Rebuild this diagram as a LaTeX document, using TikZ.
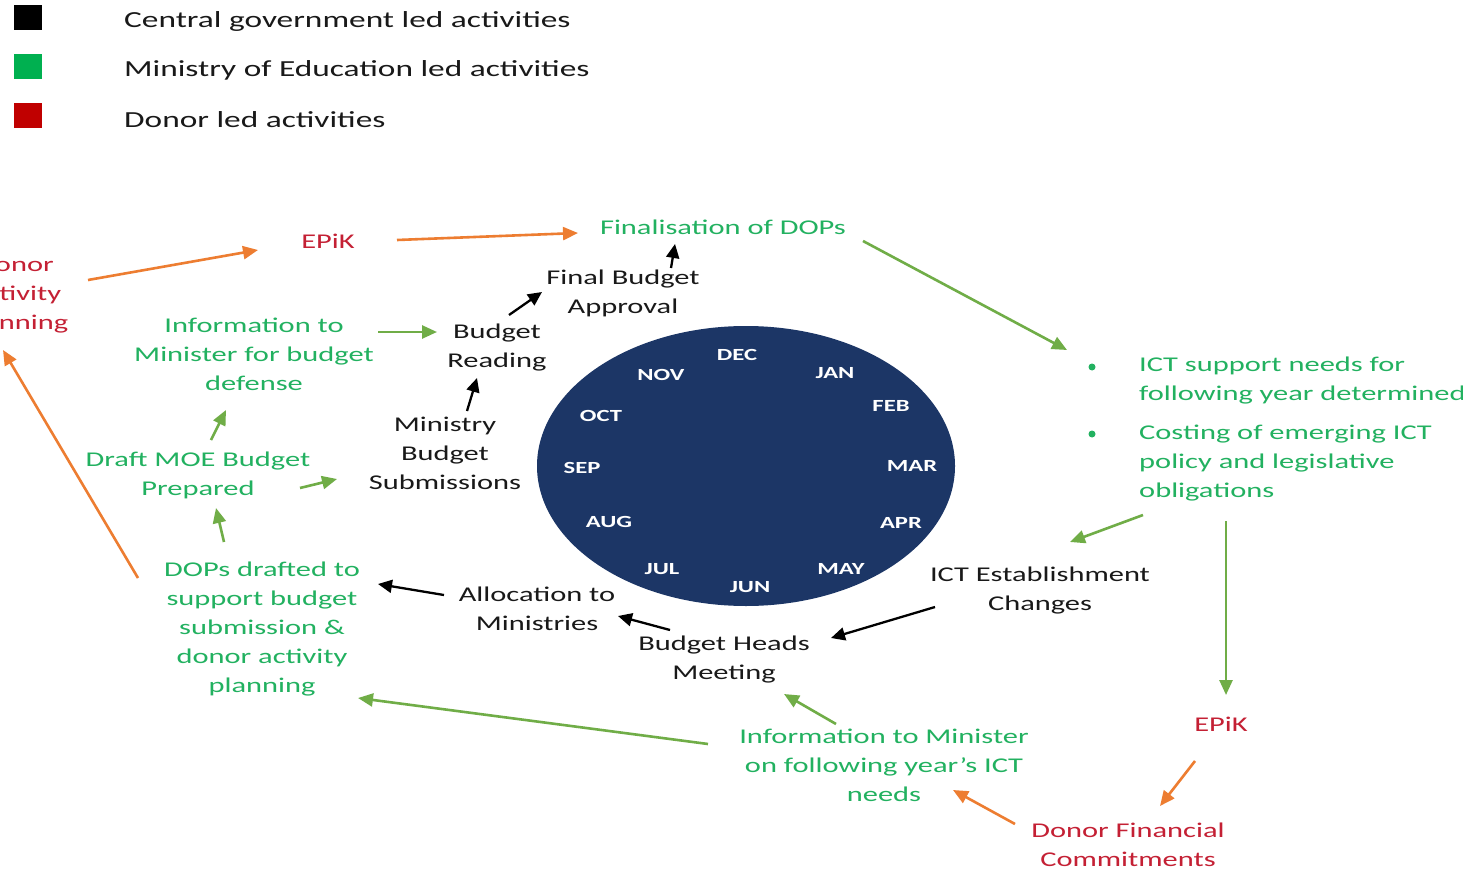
\documentclass[tikz,border=0pt]{standalone}
\usepackage{fontspec}
\setmainfont{Carlito}[FakeStretch=1.45]
\usetikzlibrary{arrows.meta,shapes.geometric}
\definecolor{txtgreen}{RGB}{34,177,96}
\definecolor{txtred}{RGB}{196,32,52}
\definecolor{txtblack}{RGB}{25,25,25}
\definecolor{arrorange}{RGB}{237,125,49}
\definecolor{arrgreen}{RGB}{112,173,71}
\definecolor{navy}{RGB}{28,54,102}
\definecolor{leggreen}{RGB}{0,176,80}
\definecolor{legred}{RGB}{192,0,0}
\tikzset{
  lbl/.style={font=\fontsize{21}{29}\selectfont, align=center, inner sep=0pt},
  gtxt/.style={lbl, text=txtgreen},
  rtxt/.style={lbl, text=txtred},
  ktxt/.style={lbl, text=txtblack},
  month/.style={font=\fontsize{17}{18}\selectfont\bfseries, text=white, inner sep=0pt},
  legtxt/.style={font=\fontsize{23}{26}\selectfont, anchor=west, inner sep=0pt, text=txtblack},
  legbox/.style={minimum width=28pt, minimum height=25pt, inner sep=0pt},
  garr/.style={draw=arrgreen, line width=2.6pt, -{Triangle[length=15pt,width=13pt]}},
  oarr/.style={draw=arrorange, line width=2.6pt, -{Triangle[length=15pt,width=13pt]}},
  karr/.style={draw=black, line width=2.3pt, -{Triangle[length=14pt,width=13pt]}},
  dot/.style={circle, fill=txtgreen, minimum size=7pt, inner sep=0pt}
}
\begin{document}
\begin{tikzpicture}[x=1pt,y=-1pt]
\useasboundingbox (0,0) rectangle (1463,869);
\fill[white] (0,0) rectangle (1463,869);

% legend
\node[legbox, fill=black] (lk) at (28,18) {};
\node[legbox, fill=leggreen] (lg) at (28,67) {};
\node[legbox, fill=legred] (lr) at (28,116) {};
\node[legtxt] (lkt) at (124,21) {Central government led activities};
\node[legtxt] (lgt) at (124,70) {Ministry of Education led activities};
\node[legtxt] (lrt) at (124,120) {Donor led activities};

% clock
\node[ellipse, fill=navy, minimum width=418pt, minimum height=280pt, inner sep=0pt] (clock) at (746,466) {};
\node[month] (dec) at (737,355) {DEC};
\node[month] (jan) at (835,373) {JAN};
\node[month] (feb) at (891,406) {FEB};
\node[month] (mar) at (912,466) {MAR};
\node[month] (apr) at (901,523) {APR};
\node[month] (may) at (841,569) {MAY};
\node[month] (jun) at (750,587) {JUN};
\node[month] (jul) at (662,569) {JUL};
\node[month] (aug) at (609,522) {AUG};
\node[month] (sep) at (582,468) {SEP};
\node[month] (oct) at (601,416) {OCT};
\node[month] (nov) at (661,375) {NOV};

% text nodes
\node[gtxt] (fin) at (723,227) {Finalisation of DOPs};
\node[rtxt] (epikA) at (328,241) {EPiK};
\node[rtxt] (donor) at (15,296) {Donor\\Activity\\Planning};
\node[ktxt] (fba) at (623,293) {Final Budget\\Approval};
\node[ktxt] (bread) at (497,348) {Budget\\Reading};
\node[gtxt] (infomin) at (254,354) {Information to\\Minister for budget\\defense};
\node[ktxt] (mbs) at (445,453) {Ministry\\Budget\\Submissions};
\node[gtxt] (draft) at (198,475) {Draft MOE Budget\\Prepared};
\node[gtxt] (dops) at (262,629) {DOPs drafted to\\support budget\\submission \&\\donor activity\\planning};
\node[ktxt] (alloc) at (537,609) {Allocation to\\Ministries};
\node[ktxt] (bhm) at (724,660) {Budget Heads\\Meeting};
\node[ktxt] (icte) at (1040,591) {ICT Establishment\\Changes};
\node[gtxt, align=left, anchor=west] (bul1) at (1139,381) {ICT support needs for\\following year determined};
\node[gtxt, align=left, anchor=west] (bul2) at (1139,463) {Costing of emerging ICT\\policy and legislative\\obligations};
\node[dot] (d1) at (1092,367) {};
\node[dot] (d2) at (1092,434) {};
\node[rtxt] (epikB) at (1221,724) {EPiK};
\node[gtxt] (infoict) at (884,765) {Information to Minister\\on following year’s ICT\\needs};
\node[rtxt] (dfc) at (1128,845) {Donor Financial\\Commitments};

% orange arrows
\draw[oarr] ([shift={(73,-16)}]donor.center) -- ([shift={(-70,9)}]epikA.center);
\draw[oarr] ([shift={(69,-1)}]epikA.center) -- ([shift={(-145,6)}]fin.center);
\draw[oarr] ([shift={(-124,-51)}]dops.center) -- ([shift={(-12,54)}]donor.center);
\draw[oarr] ([shift={(-26,37)}]epikB.center) -- ([shift={(32,-39)}]dfc.center);
\draw[oarr] ([shift={(-113,-21)}]dfc.center) -- ([shift={(69,25)}]infoict.center);

% green arrows
\draw[garr] ([shift={(140,14)}]fin.center) -- ([shift={(-72,-31)}]bul1.west);
\draw[garr] ([shift={(124,-22)}]infomin.center) -- ([shift={(-60,-16)}]bread.center);
\draw[garr] ([shift={(13,-35)}]draft.center) -- ([shift={(-28,56)}]infomin.center);
\draw[garr] ([shift={(102,13)}]draft.center) -- ([shift={(-108,26)}]mbs.center);
\draw[garr] ([shift={(-38,-87)}]dops.center) -- ([shift={(18,33)}]draft.center);
\draw[garr] ([shift={(4,52)}]bul2.west) -- ([shift={(30,-49)}]icte.center);
\draw[garr] ([shift={(87,58)}]bul2.west) -- ([shift={(5,-29)}]epikB.center);
\draw[garr] ([shift={(-176,-21)}]infoict.center) -- ([shift={(96,69)}]dops.center);
\draw[garr] ([shift={(-48,-41)}]infoict.center) -- ([shift={(60,34)}]bhm.center);

% black arrows
\draw[karr] ([shift={(22,-42)}]mbs.center) -- ([shift={(-20,30)}]bread.center);
\draw[karr] ([shift={(12,-33)}]bread.center) -- ([shift={(-81,-1)}]fba.center);
\draw[karr] ([shift={(48,-25)}]fba.center) -- ([shift={(-48,17)}]fin.center);
\draw[karr] ([shift={(-105,16)}]icte.center) -- ([shift={(107,-22)}]bhm.center);
\draw[karr] ([shift={(-54,-30)}]bhm.center) -- ([shift={(81,7)}]alloc.center);
\draw[karr] ([shift={(-93,-14)}]alloc.center) -- ([shift={(116,-45)}]dops.center);
\end{tikzpicture}
\end{document}
